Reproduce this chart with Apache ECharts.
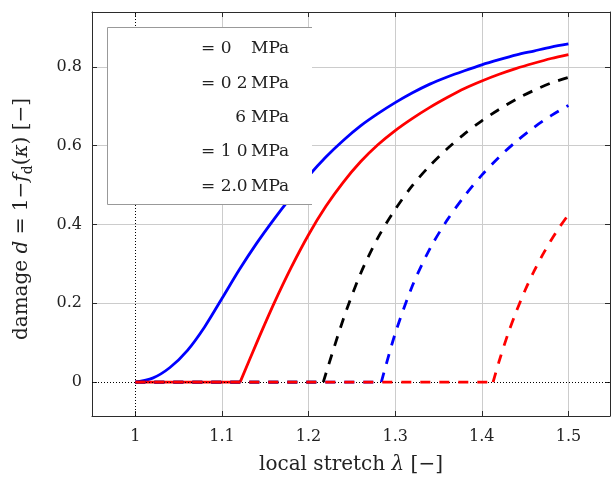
<!DOCTYPE html>
<html>
<head>
<meta charset="utf-8">
<script src="https://cdn.jsdelivr.net/npm/echarts@6/dist/echarts.min.js"></script>
<style>
  html, body { margin: 0; padding: 0; background: #fff; }
  #chart { width: 614px; height: 478px; }
</style>
</head>
<body>
<div id="chart"></div>
<script>
// Tick positions on both axes
const stretchTicks = [1, 1.1, 1.2, 1.3, 1.4, 1.5];
const damageTicks = [0, 0.2, 0.4, 0.6, 0.8];

// Legend entries (as printed)
const legendValues = ['= 0', '= 0 2', '6', '= 1 0', '= 2.0'];
const legendUnit = 'MPa';

// Stretch at which damage starts for each curve
const onsets = [1.0, 1.121, 1.217, 1.284, 1.413];

// Damage after onset: [stretch, damage]
const blueSolid = [
  [1.00, 0], [1.02, 0.010], [1.04, 0.037], [1.06, 0.080], [1.08, 0.140],
  [1.10, 0.212], [1.12, 0.285], [1.14, 0.352], [1.16, 0.413], [1.18, 0.470],
  [1.20, 0.523], [1.22, 0.571], [1.24, 0.613], [1.26, 0.650], [1.28, 0.681],
  [1.30, 0.709], [1.32, 0.734], [1.34, 0.756], [1.36, 0.774], [1.38, 0.790],
  [1.40, 0.805], [1.42, 0.818], [1.44, 0.830], [1.46, 0.840], [1.48, 0.850],
  [1.50, 0.858]
];
const redSolid = [
  [1.121, 0], [1.14, 0.099], [1.16, 0.199], [1.18, 0.291], [1.20, 0.374],
  [1.22, 0.446], [1.24, 0.507], [1.26, 0.559], [1.28, 0.602], [1.30, 0.638],
  [1.32, 0.669], [1.34, 0.697], [1.36, 0.722], [1.38, 0.745], [1.40, 0.764],
  [1.42, 0.781], [1.44, 0.796], [1.46, 0.809], [1.48, 0.821], [1.50, 0.831]
];
const blackDashed = [
  [1.217, 0], [1.24, 0.159], [1.26, 0.275], [1.28, 0.366], [1.30, 0.438],
  [1.32, 0.499], [1.34, 0.549], [1.36, 0.592], [1.38, 0.630], [1.40, 0.663],
  [1.42, 0.692], [1.44, 0.718], [1.46, 0.740], [1.48, 0.759], [1.50, 0.773]
];
const blueDashed = [
  [1.284, 0], [1.30, 0.123], [1.32, 0.245], [1.34, 0.338], [1.36, 0.411],
  [1.38, 0.472], [1.40, 0.525], [1.42, 0.571], [1.44, 0.611], [1.46, 0.646],
  [1.48, 0.676], [1.50, 0.702]
];
const redDashed = [
  [1.413, 0], [1.42, 0.053], [1.43, 0.121], [1.44, 0.180], [1.45, 0.233],
  [1.46, 0.280], [1.47, 0.322], [1.48, 0.360], [1.49, 0.394], [1.50, 0.425]
];

const curves = [
  { data: blueSolid,   color: '#0000ff', dashed: false },
  { data: redSolid,    color: '#ff0000', dashed: false },
  { data: blackDashed, color: '#000000', dashed: true },
  { data: blueDashed,  color: '#0000ff', dashed: true },
  { data: redDashed,   color: '#ff0000', dashed: true }
];

const FONT = '"DejaVu Serif", serif';
const AXIS_COLOR = '#2b2b2b';
const GRID_COLOR = '#cccccc';
const fmt = v => String(Math.round(v * 10) / 10);

const series = [];
curves.forEach((c, i) => {
  const style = {
    color: c.color,
    width: 2.8,
    type: c.dashed ? [10, 9] : 'solid'
  };
  // undamaged stretch range, flat at zero
  if (onsets[i] > stretchTicks[0]) {
    series.push({
      type: 'line', data: [[stretchTicks[0], 0], [onsets[i], 0]],
      showSymbol: false, silent: true, lineStyle: style, z: 2 + i
    });
  }
  // damage growth
  series.push({
    type: 'line', data: c.data, smooth: 0.3,
    showSymbol: false, silent: true, lineStyle: style, z: 2 + i
  });
});

// dotted reference lines at stretch 1 and damage 0
series.push({
  type: 'line', data: [[1, 0]], showSymbol: false, silent: true,
  lineStyle: { opacity: 0 }, z: 20,
  markLine: {
    silent: true, symbol: 'none', animation: false,
    label: { show: false },
    lineStyle: { color: '#000', width: 1, type: [1, 2] },
    data: [{ xAxis: 1 }, { yAxis: 0 }]
  }
});

// legend panel
const graphics = [
  { type: 'rect', shape: { x: 107, y: 27, width: 205, height: 177 },
    style: { fill: '#ffffff' }, z: 100, silent: true },
  { type: 'polyline',
    shape: { points: [[312, 27.5], [107.5, 27.5], [107.5, 204.5], [312, 204.5]] },
    style: { stroke: '#999999', fill: null, lineWidth: 1 }, z: 101, silent: true }
];
legendValues.forEach((txt, i) => {
  const y = 49 + i * 34.3;
  const leading = txt.charAt(0) === '=';
  graphics.push({
    type: 'text', x: leading ? 201 : 246, y: y, z: 102, silent: true,
    style: { text: txt, font: '17px ' + FONT, fill: '#222',
             align: leading ? 'left' : 'right', verticalAlign: 'middle',
             textAlign: leading ? 'left' : 'right', textVerticalAlign: 'middle' }
  });
  graphics.push({
    type: 'text', x: 251, y: y, z: 102, silent: true,
    style: { text: legendUnit, font: '17px ' + FONT, fill: '#222',
             align: 'left', verticalAlign: 'middle',
             textAlign: 'left', textVerticalAlign: 'middle' }
  });
});

const nameRich = {
  a: { fontFamily: FONT, fontSize: 20, color: '#222', lineHeight: 26 },
  i: { fontFamily: FONT, fontSize: 20, color: '#222', fontStyle: 'italic', lineHeight: 26 },
  s: { fontFamily: FONT, fontSize: 14, color: '#222', lineHeight: 14, verticalAlign: 'bottom' }
};

const xBase = {
  type: 'value', min: 0.95, max: 1.548,
  axisLine: { show: true, onZero: false, lineStyle: { color: AXIS_COLOR, width: 1 } },
  axisTick: { show: true, inside: true, length: 5, customValues: stretchTicks,
              lineStyle: { color: AXIS_COLOR } }
};
const yBase = {
  type: 'value', min: -0.086, max: 0.939,
  axisLine: { show: true, onZero: false, lineStyle: { color: AXIS_COLOR, width: 1 } },
  axisTick: { show: true, inside: true, length: 5, customValues: damageTicks,
              lineStyle: { color: AXIS_COLOR } }
};

const option = {
  backgroundColor: '#fff',
  animation: false,
  grid: { left: 92, right: 4, top: 12, bottom: 62, containLabel: false, outerBoundsMode: 'none' },
  xAxis: [
    Object.assign({}, xBase, {
      position: 'bottom',
      name: 'local stretch {i|λ} {a|[−]}',
      nameLocation: 'middle', nameGap: 36,
      nameTextStyle: { fontFamily: FONT, fontSize: 20, color: '#222', rich: nameRich },
      axisLabel: { show: true, margin: 13, customValues: stretchTicks, formatter: fmt,
                   fontFamily: FONT, fontSize: 16, color: '#222' },
      splitLine: { show: true, lineStyle: { color: ['rgba(0,0,0,0)', GRID_COLOR, GRID_COLOR,
                   GRID_COLOR, GRID_COLOR, GRID_COLOR], width: 1 } }
    }),
    Object.assign({}, xBase, {
      position: 'top', axisLabel: { show: false }, splitLine: { show: false }
    })
  ],
  yAxis: [
    Object.assign({}, yBase, {
      position: 'left',
      name: '{a|damage }{i|d}{a| = 1−}{i|f}{s|d}{a|(}{i|κ}{a|) [−]}',
      nameLocation: 'middle', nameGap: 57,
      nameTextStyle: { rich: nameRich, padding: [0, 10, 0, 0] },
      axisLabel: { show: true, margin: 10, customValues: damageTicks, formatter: fmt,
                   fontFamily: FONT, fontSize: 16, color: '#222' },
      splitLine: { show: true, lineStyle: { color: ['rgba(0,0,0,0)', GRID_COLOR, GRID_COLOR,
                   GRID_COLOR, GRID_COLOR], width: 1 } }
    }),
    Object.assign({}, yBase, {
      position: 'right', axisLabel: { show: false }, splitLine: { show: false }
    })
  ],
  graphic: { elements: graphics },
  series: series
};

const chart = echarts.init(document.getElementById('chart'), null, { renderer: 'canvas' });
chart.setOption(option);
</script>
</body>
</html>
